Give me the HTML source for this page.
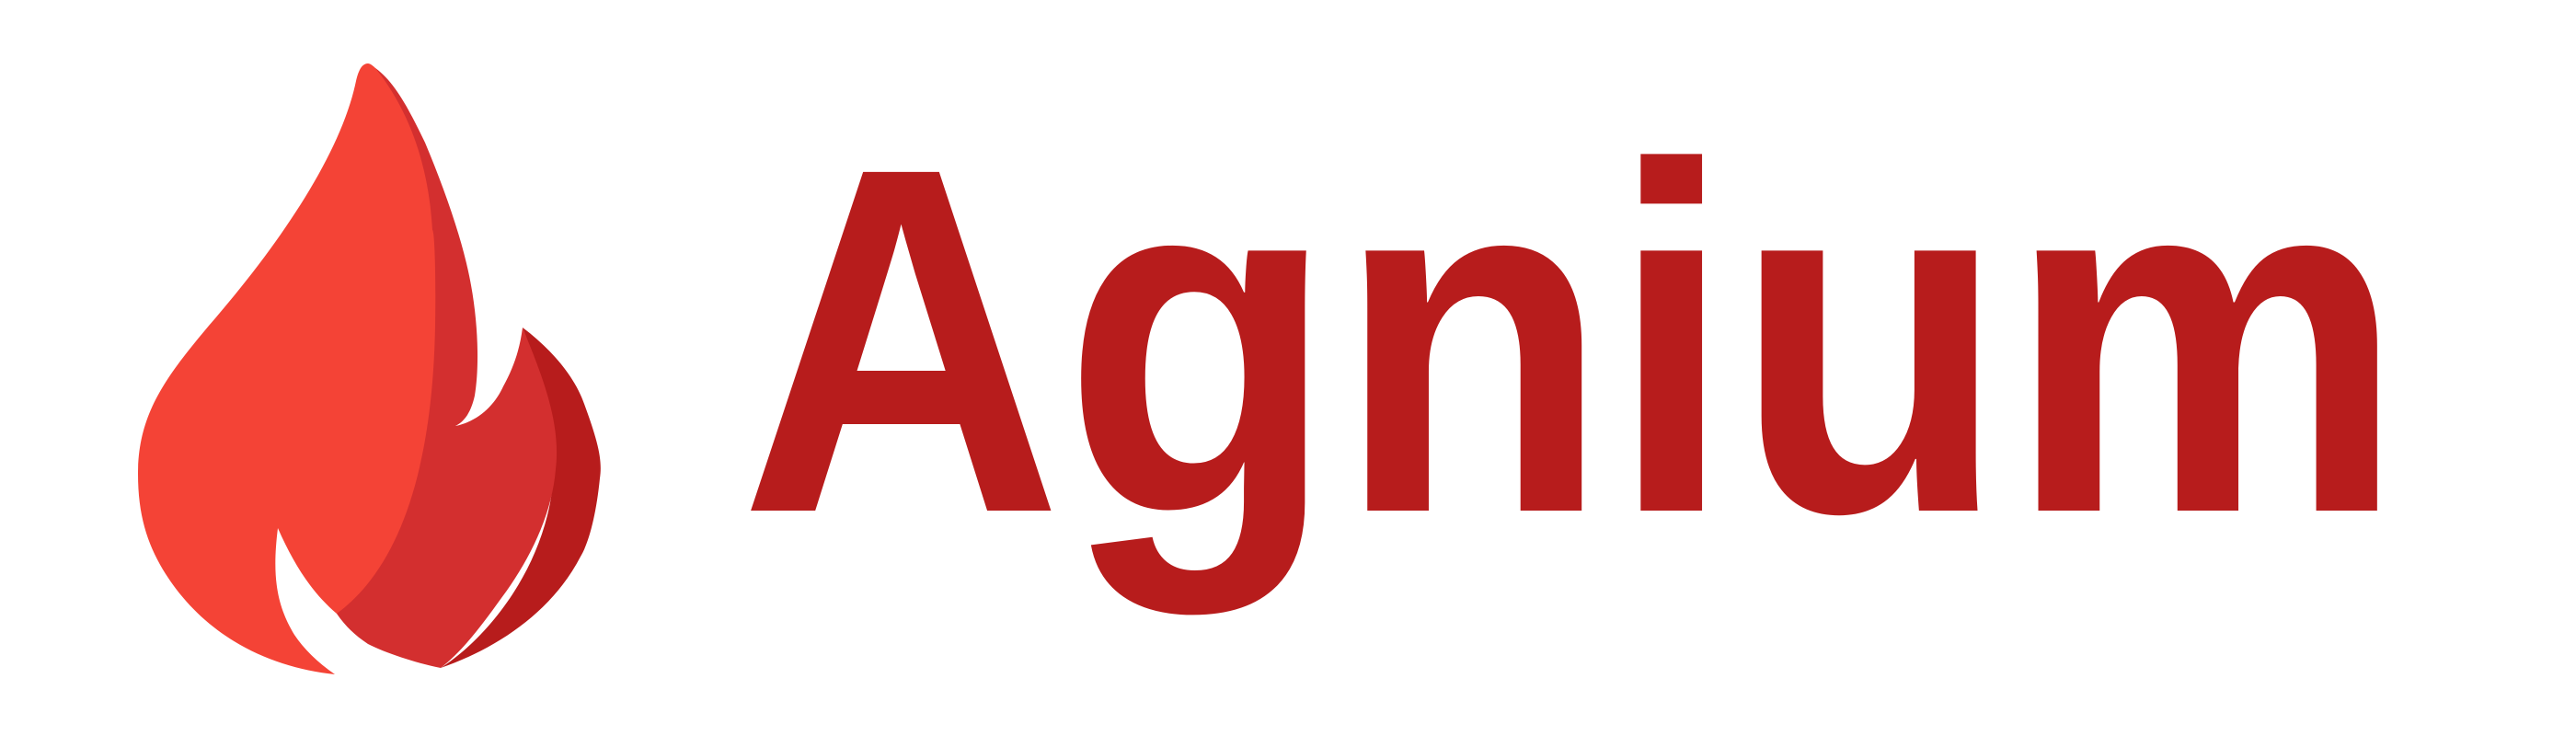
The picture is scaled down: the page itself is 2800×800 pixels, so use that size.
<!DOCTYPE html>
<html><head><meta charset="utf-8"><style>
html,body{margin:0;padding:0;background:#fff;width:2800px;height:800px;overflow:hidden}
</style></head><body>
<svg width="2800" height="800" viewBox="0 0 2800 800" xmlns="http://www.w3.org/2000/svg">
<rect width="2800" height="800" fill="#fff"/>
<g>
<path fill="#b71c1c" d="M568,356 C600,380 625,410 635,439 C650,480 655,500 652,520 C648,560 640,590 631,605 C600,665 540,705 479,726 C520,700 575,640 595,560 C610,500 600,440 568,356 Z"/>
<path fill="#d32f2f" d="M408,74 C430,90 445,120 462,155 C485,210 504,265 512,310 C520,354 521,400 516,430 C512,448 505,458 495,463 C520,458 538,440 547,420 C558,400 565,380 568,356 C590,410 610,460 604,510 C600,560 575,610 545,650 C520,685 500,710 479,726 C450,720 420,710 400,700 C385,690 375,680 366,667 Z"/>
<path fill="#f44336" d="M400,69 C392,69 389,80 387,88 C370,170 300,270 227,354 C180,410 150,450 150,515 C150,560 160,590 177,619 C220,690 290,725 364,733 C345,720 330,705 320,690 C302,660 295,630 302,574 C320,615 340,645 366,667 C430,620 470,520 473,354 C474,290 472,250 470,250 C466,180 445,120 408,74 C405,71 402,69 400,69 Z"/>
</g>
<text x="804" y="555" textLength="1810" lengthAdjust="spacingAndGlyphs" font-family="Liberation Sans, sans-serif" font-weight="bold" font-size="535" fill="#b71c1c">Agnium</text>
</svg>
</body></html>
